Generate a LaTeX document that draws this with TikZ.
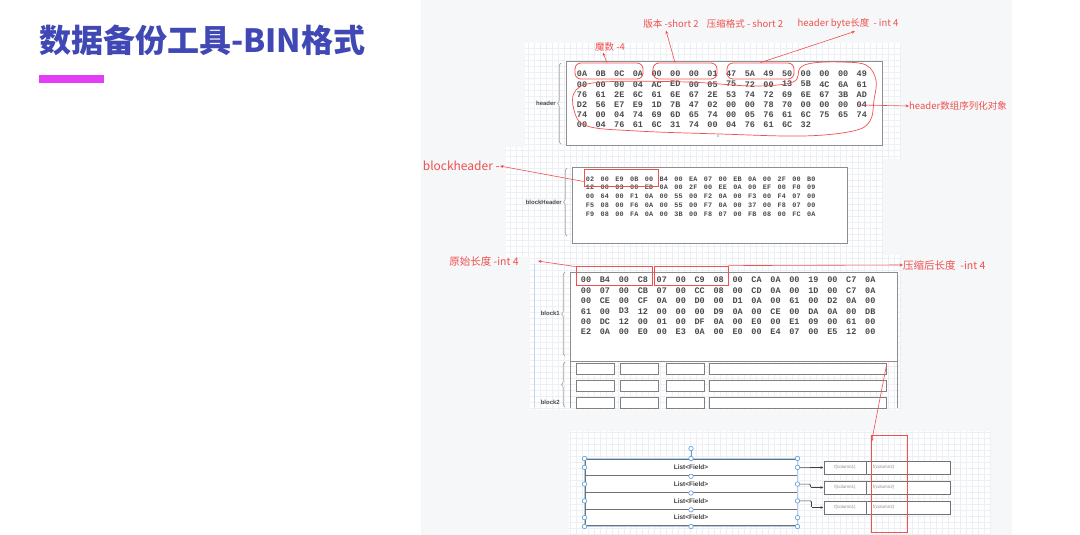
\documentclass[tikz,border=0pt]{standalone}
\usepackage{fontspec}
\newfontfamily\cjk{Noto Sans CJK SC}
\newfontfamily\hexf{Liberation Mono}
\newfontfamily\labf{Liberation Sans}
\usetikzlibrary{decorations.pathreplacing,arrows.meta}
\definecolor{titleblue}{HTML}{3F48B4}
\definecolor{barmag}{HTML}{E23CF5}
\definecolor{panelbg}{HTML}{F6F7F9}
\definecolor{gridln}{HTML}{ECEFF3}
\definecolor{redl}{HTML}{F0504E}
\definecolor{boxgray}{HTML}{8E8E8E}
\definecolor{hexgray}{HTML}{4A4A4A}
\definecolor{selblue}{HTML}{5B9BD5}
\tikzset{
  redlab/.style={text=redl, font=\cjk\fontsize{9.5}{11}\selectfont, inner sep=0},
  redbox/.style={draw=redl, line width=0.8pt, inner sep=0},
  redarr/.style={draw=redl, line width=0.6pt, -{Stealth[length=3.5pt,width=3pt]}},
  graybox/.style={draw=boxgray, line width=1pt, fill=white, inner sep=0},
  hexh/.style={font=\hexf\bfseries\fontsize{8.5}{10}\selectfont, text=hexgray, inner sep=0},
  hexs/.style={font=\hexf\bfseries\fontsize{6.8}{8}\selectfont, text=hexgray, inner sep=0},
  seclab/.style={font=\labf\bfseries\fontsize{6}{7}\selectfont, text=hexgray, inner sep=0, anchor=east},
  bracest/.style={draw=boxgray!80, line width=0.7pt, decorate, decoration={brace, amplitude=3.5pt}},
  gridreg/.style={fill=white},
  gridlines/.style={draw=gridln, line width=0.3pt},
  cell/.style={draw=boxgray!90!black, line width=1pt, fill=white, inner sep=0, minimum height=11pt},
  listrow/.style={draw=boxgray!80!black, line width=1pt, fill=white, inner sep=0, minimum width=212pt, minimum height=16.75pt, font=\labf\bfseries\fontsize{6.5}{8}\selectfont, text=black!75},
  rbox/.style={draw=boxgray!80!black, line width=1pt, fill=white, inner sep=0, minimum height=13pt},
  ftxt/.style={font=\labf\fontsize{4.5}{5}\selectfont, text=black!45, inner sep=0},
  handle/.style={circle, draw=selblue, fill=white, line width=0.6pt, inner sep=0, minimum size=4.5pt},
  conn/.style={draw=black!75, line width=0.6pt, -{Stealth[length=3pt,width=2.5pt]}},
}
\begin{document}
\begin{tikzpicture}[x=1pt,y=-1pt]
\useasboundingbox (0,0) rectangle (1080,535);
\fill[white] (0,0) rectangle (1080,535);
% title
\node[anchor=west, text=titleblue, font=\cjk\bfseries\fontsize{32}{36}\selectfont, inner sep=0] (title) at (39,40) {数据备份工具-BIN格式};
\node[fill=barmag, minimum width=65pt, minimum height=8pt, inner sep=0, anchor=north west] (bar) at (39,75) {};
% panel
\fill[panelbg] (421,0) rectangle (1012,535);
% grid regions
\fill[gridreg] (525,43) rectangle (901,159);
\fill[gridreg] (506,147) rectangle (882,257);
\fill[gridreg] (530,255) rectangle (900,410);
\fill[gridreg] (569,431) rectangle (991,535);
\draw[gridlines, step=6pt] (525,43) grid (901,159);
\draw[gridlines, step=6pt] (506,147) grid (882,257);
\draw[gridlines, step=6pt] (530,255) grid (900,410);
\draw[gridlines, step=6pt] (569,431) grid (991,535);

% ---------------- header ----------------
\node[graybox, minimum width=316pt, minimum height=83pt] (hbox) at (724,103.5) {};
\fill[selblue!60] (718,136) circle (1.2pt);
\draw[bracest] (561,144) -- (561,63);
\node[seclab] (hlab) at (556,103.5) {header};
\foreach \row [count=\r] in {{0A,0B,0C,0A,00,00,00,01,47,5A,49,50,00,00,00,49},{00,00,00,04,AC,ED,00,05,75,72,00,13,5B,4C,6A,61},{76,61,2E,6C,61,6E,67,2E,53,74,72,69,6E,67,3B,AD},{D2,56,E7,E9,1D,7B,47,02,00,00,78,70,00,00,00,04},{74,00,04,74,69,6D,65,74,00,05,76,61,6C,75,65,74},{00,04,76,61,6C,31,74,00,04,76,61,6C,32}}{
  \foreach \b [count=\c] in \row {
    \node[hexh] (h\r-\c) at ({582+(\c-1)*18.65},{74+(\r-1)*10.2}) {\b};
  }
}
\node[redbox, rounded corners=6pt, minimum width=68pt, minimum height=16pt] (r1) at (609,71) {};
\node[redbox, rounded corners=6pt, minimum width=64pt, minimum height=16pt] (r2) at (685,71) {};
\node[redbox, rounded corners=6pt, minimum width=67pt, minimum height=16pt] (r3) at (760.5,71) {};
\draw[draw=redl, line width=0.7pt] plot[smooth cycle, tension=0.6] coordinates {(800,68) (813,63) (840,62) (866,65) (876,80) (874,100) (870,121) (853,131) (803,136) (720,134) (637,131) (587,126) (574,110) (576,90) (603,82) (687,82) (753,86) (793,82)};
\coordinate (blobR) at (859,105);
\node[redlab] (mo) at (610,47) {魔数 -4};
\node[redlab] (ver) at (671,24) {版本 -short 2};
\node[redlab] (comp) at (745,24) {压缩格式 - short 2};
\node[redlab] (hlen) at (848,24) {header byte长度 \ - int 4};
\node[redlab, anchor=west] (hser) at (909,106) {header数组序列化对象};
\draw[redarr] ([xshift=-2pt]r1.north) -- ([xshift=-7pt,yshift=-1pt]mo.south);
\draw[redarr] ([xshift=-10pt]r2.north) -- ([xshift=-5pt,yshift=-2pt]ver.south);
\draw[redarr] (r3.north) -- ([xshift=7pt,yshift=-2pt]hlen.south);
\draw[redarr] (blobR) -- (hser.west);

% ---------------- blockHeader ----------------
\node[graybox, minimum width=275pt, minimum height=76pt] (bhbox) at (709.5,205) {};
\draw[bracest] (567,236) -- (567,168);
\node[seclab] (bhlab) at (562,202) {blockHeader};
\foreach \row [count=\r] in {{02,00,E9,0B,00,B4,00,EA,07,00,EB,0A,00,2F,00,B0},{12,00,03,00,ED,0A,00,2F,00,EE,0A,00,EF,00,F0,09},{00,64,00,F1,0A,00,55,00,F2,0A,00,F3,00,F4,07,00},{F5,08,00,F6,0A,00,55,00,F7,0A,00,37,00,F8,07,00},{F9,08,00,FA,0A,00,3B,00,F8,07,00,FB,08,00,FC,0A}}{
  \foreach \b [count=\c] in \row {
    \node[hexs] (bh\r-\c) at ({590+(\c-1)*14.75},{179+(\r-1)*8.7}) {\b};
  }
}
\node[redbox, minimum width=74pt, minimum height=17pt] (bhr) at (621,177.5) {};
\node[redlab, font=\cjk\fontsize{12}{14}\selectfont, anchor=east] (bh) at (500,166) {blockheader -};
\draw[redarr] ([yshift=-4pt]bhr.west) -- (bh.east);

% ---------------- block1 / block2 ----------------
\draw[selblue!40, line width=0.5pt] (534,264) -- (534,407);
\node[graybox, minimum width=327pt, minimum height=89pt] (b1box) at (733.5,316.5) {};
\draw[boxgray, line width=1pt] (570,361) -- (570,408);
\draw[boxgray, line width=1pt] (897,361) -- (897,408);
\draw[bracest] (565,356) -- (565,272);
\node[seclab] (b1lab) at (560,313) {block1};
\draw[bracest] (565,407) -- (565,362);
\node[seclab] (b2lab) at (560,402) {block2};
\foreach \row [count=\r] in {{00,B4,00,C8,07,00,C9,08,00,CA,0A,00,19,00,C7,0A},{00,07,00,CB,07,00,CC,08,00,CD,0A,00,1D,00,C7,0A},{00,CE,00,CF,0A,00,D0,00,D1,0A,00,61,00,D2,0A,00},{61,00,D3,12,00,00,00,D9,0A,00,CE,00,DA,0A,00,DB},{00,DC,12,00,01,00,DF,0A,00,E0,00,E1,09,00,61,00},{E2,0A,00,E0,00,E3,0A,00,E0,00,E4,07,00,E5,12,00}}{
  \foreach \b [count=\c] in \row {
    \node[hexh] (b\r-\c) at ({586+(\c-1)*18.95},{280+(\r-1)*10.4}) {\b};
  }
}
\node[redbox, minimum width=76pt, minimum height=19pt] (olenr) at (614,275.5) {};
\node[redbox, minimum width=74pt, minimum height=19pt] (clenr) at (691,275.5) {};
\node[redlab, font=\cjk\fontsize{10.5}{12}\selectfont] (olen) at (484,261) {原始长度 -int 4};
\node[redlab, font=\cjk\fontsize{10.5}{12}\selectfont, anchor=west] (clen) at (903,265) {压缩后长度 \ -int 4};
\draw[redarr] ([yshift=-1pt]olenr.north west) -- ([xshift=19pt]olen.east);
\draw[redarr] (clenr.north east) -- (clen.west);
% block2 cells
\foreach \y [count=\r] in {369,385.5,402.5}{
  \node[cell, minimum width=38pt] (c\r-1) at (595,\y) {};
  \node[cell, minimum width=38pt] (c\r-2) at (639,\y) {};
  \node[cell, minimum width=38pt] (c\r-3) at (685,\y) {};
  \node[cell, minimum width=177pt] (c\r-4) at (797.5,\y) {};
}

% ---------------- bottom list ----------------
\foreach \y [count=\r] in {467.4,484.1,500.9,517.6}{
  \node[listrow] (L\r) at (691,\y) {List<Field>};
}
\foreach \y [count=\r] in {467.5,487.5,507.5}{
  \node[rbox, minimum width=42pt, ftxt, draw=boxgray!80!black, line width=1pt, fill=white, minimum height=13pt] (fa\r) at (845,\y) {f(column1)};
  \node[rbox, minimum width=84pt] (fb\r) at (908,\y) {};
  \node[ftxt, anchor=west] (ft\r) at (873,\y) {f(column2)};
}
\node[redbox, minimum width=36pt, minimum height=97pt] (rr) at (889,483.5) {};
\draw[redarr] ([yshift=-2pt]c1-4.north east) -- ([xshift=1pt,yshift=-7pt]rr.north west);
\draw[conn] (L1.east) -- (fa1.west);
\draw[conn, rounded corners=1pt] (L2.east) -- ++(13,0) |- (fa2.west);
\draw[conn, rounded corners=1pt] (L3.east) -- ++(14,0) |- (fa3.west);
% selection handles
\draw[selblue!50, line width=0.4pt] (L1.north west) rectangle (L4.south east);
\draw[selblue, line width=0.6pt] (L1.north) -- ++(0,-10) node[handle] (rot) {};
\foreach \n in {L1.north west,L1.north,L1.north east,L4.south west,L4.south,L4.south east,L1.west,L2.west,L3.west,L4.west,L1.east,L2.east,L3.east,L4.east,L1.south,L2.south,L3.south}{
  \node[handle] at (\n) {};
}
\end{tikzpicture}
\end{document}
